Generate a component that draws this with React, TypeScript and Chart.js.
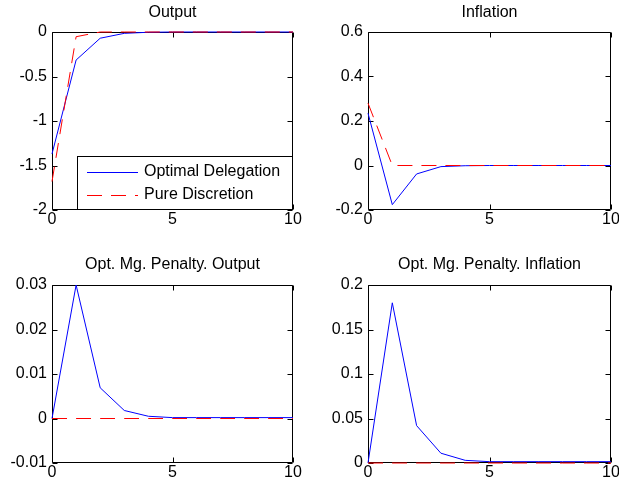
import React, { useEffect, useRef } from "react";
import { Chart, registerables } from "chart.js";

Chart.register(...registerables);

// ---------- data ----------
const periods = [0, 1, 2, 3, 4, 5, 6, 7, 8, 9, 10];
const xTickValues = [0, 5, 10];
const seriesLabels = ["Optimal Delegation", "Pure Discretion"];

const outputDelegation = [-1.37, -0.315, -0.07, -0.015, -0.003, 0, 0, 0, 0, 0, 0];
const outputDiscretion = [-1.68, -0.053, 0, 0, 0, 0, 0, 0, 0, 0, 0];
const outputTicks = [-2, -1.5, -1, -0.5, 0];

const inflationDelegation = [0.235, -0.176, -0.038, -0.005, -0.001, 0, 0, 0, 0, 0, 0];
const inflationDiscretion = [0.28, 0, 0, 0, 0, 0, 0, 0, 0, 0, 0];
const inflationTicks = [-0.2, 0, 0.2, 0.4, 0.6];

const penaltyOutputDelegation = [0, 0.03, 0.0069, 0.0018, 0.0005, 0.0002, 0.0002, 0.0002, 0.0002, 0.0002, 0.0002];
const penaltyOutputDiscretion = [0, 0, 0, 0, 0, 0, 0, 0, 0, 0, 0];
const penaltyOutputTicks = [-0.01, 0, 0.01, 0.02, 0.03];

const penaltyInflationDelegation = [0, 0.18, 0.042, 0.011, 0.003, 0.0015, 0.0015, 0.0015, 0.0015, 0.0015, 0.0015];
const penaltyInflationDiscretion = [0, 0, 0, 0, 0, 0, 0, 0, 0, 0, 0];
const penaltyInflationTicks = [0, 0.05, 0.1, 0.15, 0.2];

const panelTitles = [
  "Output",
  "Inflation",
  "Opt. Mg. Penalty. Output",
  "Opt. Mg. Penalty. Inflation",
];

// ---------- styling ----------
const FONT = "'Liberation Sans', Arial, Helvetica, sans-serif";
const FONT_SIZE = 16;
const BLUE = "#0000ff";
const RED = "#ff0000";
const DASH = [15, 9];
const TICK_LEN = 5;

Chart.defaults.font.family = FONT;
Chart.defaults.font.size = FONT_SIZE;
Chart.defaults.color = "#000";

const framePlugin = {
  id: "matlabFrame",
  beforeDatasetsDraw(chart: any) {
    const { ctx, chartArea: a, scales } = chart;
    ctx.save();
    ctx.strokeStyle = "#000";
    ctx.lineWidth = 1;
    ctx.beginPath();
    const l = a.left + 0.5, r = a.right - 0.5, t = a.top + 0.5, b = a.bottom - 0.5;
    ctx.rect(l, t, r - l, b - t);
    // inward tick marks
    for (const tk of scales.x.ticks) {
      const px = Math.round(scales.x.getPixelForValue(tk.value)) + 0.5;
      ctx.moveTo(px, b);
      ctx.lineTo(px, b - TICK_LEN);
      ctx.moveTo(px, t);
      ctx.lineTo(px, t + TICK_LEN);
    }
    for (const tk of scales.y.ticks) {
      const py = Math.round(scales.y.getPixelForValue(tk.value)) + 0.5;
      ctx.moveTo(l, py);
      ctx.lineTo(l + TICK_LEN, py);
      ctx.moveTo(r, py);
      ctx.lineTo(r - TICK_LEN, py);
    }
    ctx.stroke();
    ctx.restore();
  },
  afterDatasetsDraw(chart: any, _args: any, opts: any) {
    if (!opts || !opts.legend) return;
    const { ctx, chartArea: a } = chart;
    const w = 216, h = 54;
    const x0 = a.right - w, y0 = a.bottom - h;
    ctx.save();
    ctx.fillStyle = "#fff";
    ctx.fillRect(x0, y0, w, h);
    ctx.strokeStyle = "#000";
    ctx.lineWidth = 1;
    ctx.strokeRect(x0 + 0.5, y0 + 0.5, w - 1, h - 1);
    const ds = chart.data.datasets;
    const rows = [y0 + 16, y0 + 39];
    ds.forEach((d: any, i: number) => {
      const y = rows[i] + 0.5;
      ctx.beginPath();
      ctx.strokeStyle = d.borderColor;
      ctx.lineWidth = 1;
      ctx.setLineDash(d.borderDash || []);
      ctx.moveTo(x0 + 10, y);
      ctx.lineTo(x0 + 61, y);
      ctx.stroke();
      ctx.setLineDash([]);
      ctx.fillStyle = "#000";
      ctx.font = `${FONT_SIZE}px ${FONT}`;
      ctx.textBaseline = "middle";
      ctx.textAlign = "left";
      ctx.fillText(d.label, x0 + 67, rows[i]);
    });
    ctx.restore();
  },
};

type PanelProps = {
  title: string;
  delegation: number[];
  discretion: number[];
  yTicks: number[];
  legend?: boolean;
  frame: { x: number; y: number; w: number; h: number };
  area: { l: number; t: number; r: number; b: number };
  titleTop: number;
};

function Panel(p: PanelProps) {
  const ref = useRef<HTMLCanvasElement | null>(null);
  useEffect(() => {
    if (!ref.current) return;
    const yW = p.area.l - p.frame.x;
    const rightPad = p.frame.x + p.frame.w - p.area.r;
    const titleH = p.area.t - p.frame.y;
    const xH = p.frame.y + p.frame.h - p.area.b;
    const lineH = FONT_SIZE * 1.2;
    const yMin = p.yTicks[0];
    const yMax = p.yTicks[p.yTicks.length - 1];
    const chart = new Chart(ref.current, {
      type: "line",
      data: {
        datasets: [
          {
            label: seriesLabels[0],
            data: periods.map((x, i) => ({ x, y: p.delegation[i] })),
            borderColor: BLUE,
            borderWidth: 1,
            pointRadius: 0,
            fill: false,
            tension: 0,
            clip: false as any,
            order: 2,
          },
          {
            label: seriesLabels[1],
            data: periods.map((x, i) => ({ x, y: p.discretion[i] })),
            borderColor: RED,
            borderWidth: 1,
            borderDash: DASH,
            pointRadius: 0,
            fill: false,
            tension: 0,
            clip: false as any,
            order: 1,
          },
        ],
      },
      options: {
        animation: false,
        responsive: false,
        maintainAspectRatio: false,
        events: [],
        layout: { padding: { left: 0, top: 0, right: rightPad, bottom: 0 } },
        plugins: {
          legend: { display: false },
          tooltip: { enabled: false },
          title: {
            display: true,
            text: p.title,
            fullSize: false,
            color: "#000",
            font: { family: FONT, size: FONT_SIZE, weight: "normal" as any },
            padding: { top: p.titleTop, bottom: titleH - p.titleTop - lineH },
          },
          matlabFrame: { legend: !!p.legend },
        } as any,
        scales: {
          x: {
            type: "linear",
            min: 0,
            max: 10,
            grid: { display: false, drawTicks: false },
            border: { display: false },
            ticks: {
              autoSkip: false,
              maxRotation: 0,
              padding: 0,
              color: "#000",
              callback: (v: any) => String(v),
            },
            afterBuildTicks: (s: any) => {
              s.ticks = xTickValues.map((v) => ({ value: v }));
            },
            afterFit: (s: any) => {
              s.height = xH;
              s.paddingLeft = 0;
              s.paddingRight = 0;
            },
          },
          y: {
            type: "linear",
            min: yMin,
            max: yMax,
            grid: { display: false, drawTicks: false },
            border: { display: false },
            ticks: {
              autoSkip: false,
              padding: 5,
              color: "#000",
              callback: (v: any) => String(v),
            },
            afterBuildTicks: (s: any) => {
              s.ticks = p.yTicks.map((v) => ({ value: v }));
            },
            afterFit: (s: any) => {
              s.width = yW;
              s.paddingTop = 0;
              s.paddingBottom = 0;
            },
          },
        },
      },
      plugins: [framePlugin as any],
    });
    return () => chart.destroy();
  }, []);
  return (
    <canvas
      ref={ref}
      width={p.frame.w}
      height={p.frame.h}
      style={{
        position: "absolute",
        left: p.frame.x,
        top: p.frame.y,
        width: p.frame.w,
        height: p.frame.h,
        display: "block",
      }}
    />
  );
}

export default function App() {
  return (
    <div
      style={{
        position: "absolute",
        left: 0,
        top: 0,
        width: 619,
        height: 492,
        background: "#fff",
        overflow: "hidden",
      }}
    >
      <Panel
        title={panelTitles[0]}
        delegation={outputDelegation}
        discretion={outputDiscretion}
        yTicks={outputTicks}
        legend
        frame={{ x: 0, y: 0, w: 310, h: 246 }}
        area={{ l: 52, t: 32, r: 293, b: 210 }}
        titleTop={3}
      />
      <Panel
        title={panelTitles[1]}
        delegation={inflationDelegation}
        discretion={inflationDiscretion}
        yTicks={inflationTicks}
        frame={{ x: 310, y: 0, w: 309, h: 246 }}
        area={{ l: 368, t: 32, r: 611, b: 210 }}
        titleTop={3}
      />
      <Panel
        title={panelTitles[2]}
        delegation={penaltyOutputDelegation}
        discretion={penaltyOutputDiscretion}
        yTicks={penaltyOutputTicks}
        frame={{ x: 0, y: 246, w: 310, h: 246 }}
        area={{ l: 52, t: 285, r: 293, b: 463 }}
        titleTop={9.4}
      />
      <Panel
        title={panelTitles[3]}
        delegation={penaltyInflationDelegation}
        discretion={penaltyInflationDiscretion}
        yTicks={penaltyInflationTicks}
        frame={{ x: 310, y: 246, w: 309, h: 246 }}
        area={{ l: 368, t: 285, r: 611, b: 463 }}
        titleTop={9.4}
      />
    </div>
  );
}
